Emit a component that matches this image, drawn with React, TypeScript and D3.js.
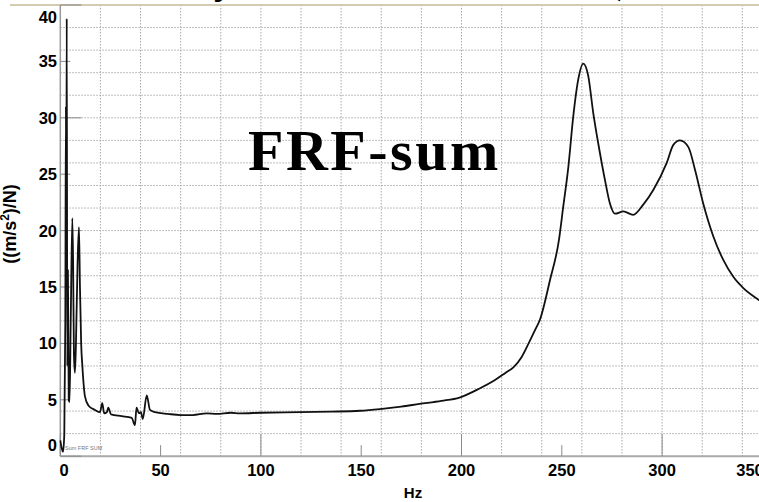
import React from "react";
import * as d3 from "d3";

// Summed FRF magnitude, ((m/s²)/N) against frequency in Hz
const freqHz = [
  0, 0.6, 1.4, 2.0, 2.5, 2.8, 3.0, 3.2, 3.5, 3.8, 4.2, 4.6, 5.2, 6.0, 6.4, 6.8,
  7.3, 7.8, 8.6, 9.3, 9.8, 10.4, 11.0, 12.3, 14.0, 17.3, 19.8, 20.9, 21.9, 23.2,
  23.9, 25.3, 30.6, 35.6, 37.2, 38.0, 39.2, 40.2, 41.1, 43.1, 44.7, 47.2, 53.7,
  60, 66, 73, 78, 85, 89.6, 100, 119.5, 135, 149.4, 159.3, 170, 179, 190, 199,
  209, 216.7, 222, 226, 230, 234, 237, 239.1, 244.1, 248.6, 250.7, 253.3, 255.7,
  258.2, 260.7, 263.2, 265.7, 268.2, 271.5, 274, 276.5, 280.7, 285.6, 290.6,
  295.6, 302.3, 305.6, 308.9, 313.1, 316.4, 320.5, 325.5, 330.5, 335.5, 340.5,
  348.3, 352,
];
const magnitude = [
  1.4, 0.8, 0.4, 2.0, 12, 31, 20, 38.8, 8, 16.5, 5.0, 4.8, 12, 21.1, 17, 9,
  7.4, 10, 17, 20.3, 15, 10, 8, 5.3, 4.5, 4.1, 3.9, 4.7, 3.8, 3.9,
  4.3, 3.7, 3.55, 3.4, 2.75, 4.3, 3.8, 3.9, 3.3, 5.4, 4.1, 3.9, 3.75,
  3.65, 3.65, 3.8, 3.75, 3.85, 3.8, 3.85, 3.9, 3.95, 4.03, 4.18, 4.4, 4.63, 4.9, 5.2,
  6.0, 6.75, 7.4, 7.9, 8.8, 10.2, 11.3, 12.1, 15.6, 19.2, 22.1, 25.7, 30.1,
  33.4, 34.8, 33.7, 30.4, 27.7, 24.5, 22.4, 21.5, 21.7, 21.4, 22.3,
  23.6, 26.0, 27.6, 28.0, 27.4, 25.4, 22.4, 19.5, 17.4, 15.9, 14.9,
  13.85, 13.4,
];

const xTicks = [0, 50, 100, 150, 200, 250, 300, 350];
const yTicks = [0, 5, 10, 15, 20, 25, 30, 35, 40];
const xGrid = d3.range(20, 360, 20);
const yGrid = d3.range(2, 40, 2);

const W = 759;
const H = 502;
const left = 60.3;
const top = 5;
const bottom = 456.2;

export default function App() {
  const x = d3.scaleLinear().domain([0, 350]).range([left, left + 350 * 2.006]);
  const y = d3.scaleLinear().domain([0, 40]).range([bottom, top]);

  const pts = freqHz.map((f, i) => [f, magnitude[i]] as [number, number]);
  const line = d3
    .line<[number, number]>()
    .x((d) => x(d[0]))
    .y((d) => y(d[1]))
    .curve(d3.curveMonotoneX);

  const labelFont = "'Liberation Sans', Arial, sans-serif";

  return (
    <svg
      width={W}
      height={H}
      style={{ position: "absolute", left: 0, top: 0, background: "#fff" }}
    >
      <defs>
        <clipPath id="plot">
          <rect x={left - 1} y={top} width={W - left + 1} height={bottom - top} />
        </clipPath>
      </defs>

      {/* slide heading, mostly above the visible area */}
      <g fontFamily="'Liberation Serif', serif" fontWeight="bold" fontSize={40} fill="#000">
        <text x={214} y={-7}>y</text>
        <text x={608} y={-7}>(</text>
      </g>

      {/* dotted grid */}
      <g stroke="#a9a9a9" strokeWidth={1} strokeDasharray="1.5,1.5">
        {xGrid.map((v) => (
          <line key={"gx" + v} x1={x(v)} x2={x(v)} y1={top} y2={bottom} />
        ))}
        {yGrid.map((v) => (
          <line key={"gy" + v} x1={left} x2={W} y1={y(v)} y2={y(v)} />
        ))}
      </g>

      {/* top rule */}
      <line x1={10} x2={W} y1={top} y2={top} stroke="#d3cbb2" strokeWidth={2} />

      {/* axes */}
      <line x1={left} x2={left} y1={top} y2={bottom} stroke="#999" strokeWidth={1.5} />
      <line x1={left} x2={W} y1={bottom} y2={bottom} stroke="#aaa" strokeWidth={2} />

      {/* tick marks */}
      <g stroke="#8a8a8a" strokeWidth={1}>
        {yTicks.map((v) => (
          <line
            key={"ty" + v}
            x1={left}
            x2={left + (v % 10 === 0 ? 21 : 10)}
            y1={y(v)}
            y2={y(v)}
          />
        ))}
        {xTicks.map((v) => (
          <line
            key={"tx" + v}
            x1={x(v)}
            x2={x(v)}
            y1={bottom}
            y2={bottom - (v % 100 === 0 ? 22 : 11)}
          />
        ))}
      </g>

      {/* FRF curve */}
      <path
        d={line(pts) || ""}
        fill="none"
        stroke="#111"
        strokeWidth={1.8}
        strokeLinejoin="round"
        clipPath="url(#plot)"
      />

      <text x={65} y={450} fontSize={5.5} fill="#777" fontFamily={labelFont}>
        Sum FRF SUM
      </text>

      {/* annotation */}
      <text
        x={248}
        y={170}
        fontFamily="'Liberation Serif', 'Times New Roman', serif"
        fontWeight="bold"
        fontSize={58}
        letterSpacing={2.5}
        fill="#000"
      >
        FRF-sum
      </text>

      {/* tick labels */}
      <g fontFamily={labelFont} fontWeight="bold" fontSize={16.5} fill="#000">
        {yTicks.map((v) => {
          const cy = Math.min(Math.max(y(v), top + 12), bottom - 11);
          return (
            <text key={"ly" + v} x={57} y={cy + 6} textAnchor="end">
              {v}
            </text>
          );
        })}
        {xTicks.map((v) => {
          const cx = Math.min(Math.max(x(v), 64), 750);
          return (
            <text key={"lx" + v} x={cx} y={476} textAnchor="middle">
              {v}
            </text>
          );
        })}
      </g>

      <text
        x={413}
        y={498}
        textAnchor="middle"
        fontFamily={labelFont}
        fontWeight="bold"
        fontSize={15}
      >
        Hz
      </text>

      <text
        transform="translate(16,224) rotate(-90)"
        textAnchor="middle"
        fontFamily={labelFont}
        fontWeight="bold"
        fontSize={18}
      >
        ((m/s
        <tspan fontSize={12} dy={-7}>2</tspan>
        <tspan dy={7}>)/N)</tspan>
      </text>
    </svg>
  );
}
